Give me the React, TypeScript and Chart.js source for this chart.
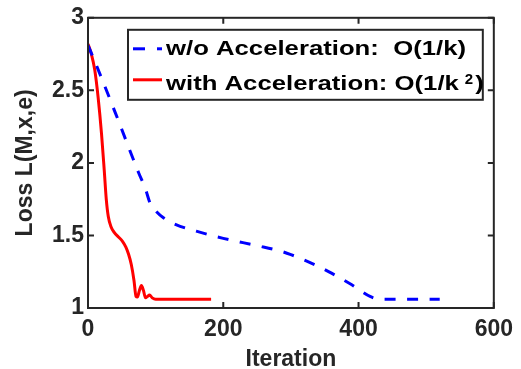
import { useEffect, useRef } from 'react';
import { Chart, registerables } from 'chart.js';

Chart.register(...registerables);

// ---- data ----
const blueIter = [0, 10, 40, 75, 85, 92, 100, 112, 130, 160, 200, 250, 285, 300, 330, 360, 390, 417, 432, 520];
const blueLoss = [2.81, 2.7, 2.35, 1.93, 1.82, 1.72, 1.67, 1.62, 1.575, 1.53, 1.48, 1.43, 1.392, 1.368, 1.31, 1.24, 1.16, 1.08, 1.06, 1.06];

const redIter = [0, 5, 10, 15, 20, 24, 27, 30, 34, 39, 45, 51, 56, 60, 64, 68, 71, 73, 76, 79, 82, 85, 88, 91, 95, 100, 182];
const redLoss = [2.82, 2.75, 2.64, 2.45, 2.2, 1.95, 1.75, 1.63, 1.56, 1.52, 1.49, 1.46, 1.42, 1.37, 1.3, 1.19, 1.08, 1.075, 1.12, 1.155, 1.12, 1.07, 1.08, 1.09, 1.07, 1.06, 1.06];

const xTickValues = [0, 200, 400, 600];
const xTickLabels = ['0', '200', '400', '600'];
const yTickValues = [1, 1.5, 2, 2.5, 3];
const yTickLabels = ['1', '1.5', '2', '2.5', '3'];

const seriesNames = ['w/o Acceleration:  O(1/k)', 'with Acceleration: O(1/k'];
const superscript = '2';
const closingParen = ')';
const xTitle = 'Iteration';
const yTitle = 'Loss L(M,x,e)';

const AXIS_COLOR = '#262626';
const FONT_FAMILY = '"Liberation Sans", Arial, Helvetica, sans-serif';

const boxPlugin = {
  id: 'matlabBox',
  afterDatasetsDraw(chart: any) {
    const ctx = chart.ctx;
    const a = chart.chartArea;
    const xs = chart.scales.x;
    const ys = chart.scales.y;
    ctx.save();
    ctx.strokeStyle = AXIS_COLOR;
    ctx.lineWidth = 2;
    ctx.setLineDash([]);
    ctx.strokeRect(a.left, a.top, a.right - a.left, a.bottom - a.top);
    const tl = 6;
    ctx.beginPath();
    xTickValues.forEach((v) => {
      const px = xs.getPixelForValue(v);
      ctx.moveTo(px, a.bottom);
      ctx.lineTo(px, a.bottom - tl);
      ctx.moveTo(px, a.top);
      ctx.lineTo(px, a.top + tl);
    });
    yTickValues.forEach((v) => {
      const py = ys.getPixelForValue(v);
      ctx.moveTo(a.left, py);
      ctx.lineTo(a.left + tl, py);
      ctx.moveTo(a.right, py);
      ctx.lineTo(a.right - tl, py);
    });
    ctx.stroke();
    ctx.restore();
  },
};

function drawStretched(ctx: CanvasRenderingContext2D, text: string, x: number, y: number, sx: number) {
  ctx.save();
  ctx.translate(x, y);
  ctx.scale(sx, 1);
  ctx.fillText(text, 0, 0);
  ctx.restore();
}

const legendPlugin = {
  id: 'matlabLegend',
  afterDraw(chart: any) {
    const ctx: CanvasRenderingContext2D = chart.ctx;
    const a = chart.chartArea;
    const L = a.left + 40;
    const T = a.top + 12;
    const R = a.right - 11;
    const B = a.top + 82;
    ctx.save();
    ctx.fillStyle = '#ffffff';
    ctx.fillRect(L, T, R - L, B - T);
    ctx.strokeStyle = AXIS_COLOR;
    ctx.lineWidth = 2;
    ctx.strokeRect(L, T, R - L, B - T);

    // line samples
    const ds = chart.data.datasets;
    ctx.lineWidth = 3;
    ctx.lineCap = 'butt';
    ctx.strokeStyle = ds[0].borderColor;
    ctx.setLineDash([12, 12]);
    ctx.beginPath();
    ctx.moveTo(L + 5, T + 19);
    ctx.lineTo(L + 34, T + 19);
    ctx.stroke();
    ctx.strokeStyle = ds[1].borderColor;
    ctx.setLineDash([]);
    ctx.beginPath();
    ctx.moveTo(L + 5, T + 50);
    ctx.lineTo(L + 34, T + 50);
    ctx.stroke();

    // text
    ctx.fillStyle = '#000000';
    ctx.textBaseline = 'alphabetic';
    ctx.textAlign = 'left';
    ctx.font = `bold 20px ${FONT_FAMILY}`;
    const tx = L + 38;
    const w1 = ctx.measureText(seriesNames[0]).width;
    const sx = 300 / w1;
    drawStretched(ctx, seriesNames[0], tx, T + 25, sx);
    drawStretched(ctx, seriesNames[1], tx, T + 60.5, sx);
    const w2 = ctx.measureText(seriesNames[1]).width * sx;
    ctx.font = `bold 15px ${FONT_FAMILY}`;
    const supX = tx + w2 + 6;
    drawStretched(ctx, superscript, supX, T + 54, 1);
    const supW = ctx.measureText(superscript).width;
    ctx.font = `bold 20px ${FONT_FAMILY}`;
    drawStretched(ctx, closingParen, supX + supW + 2, T + 60.5, sx);
    ctx.restore();
  },
};

export default function App() {
  const canvasRef = useRef<HTMLCanvasElement | null>(null);

  useEffect(() => {
    const canvas = canvasRef.current;
    if (!canvas) return;
    const tickFont = { family: FONT_FAMILY, size: 23, weight: 'bold' as const };
    const chart = new Chart(canvas, {
      type: 'line',
      data: {
        datasets: [
          {
            label: seriesNames[0],
            data: blueIter.map((x, i) => ({ x, y: blueLoss[i] })),
            borderColor: '#0000ff',
            backgroundColor: '#0000ff',
            borderWidth: 3,
            borderDash: [11, 11.5],
            borderCapStyle: 'butt',
            pointRadius: 0,
            fill: false,
            cubicInterpolationMode: 'monotone',
          },
          {
            label: seriesNames[1] + superscript + closingParen,
            data: redIter.map((x, i) => ({ x, y: redLoss[i] })),
            borderColor: '#ff0000',
            backgroundColor: '#ff0000',
            borderWidth: 3,
            pointRadius: 0,
            fill: false,
            cubicInterpolationMode: 'monotone',
          },
        ],
      },
      options: {
        animation: false,
        responsive: false,
        devicePixelRatio: 1,
        layout: { padding: { top: 17, right: 20, left: 0, bottom: 0 } },
        plugins: {
          legend: { display: false },
          tooltip: { enabled: false },
        },
        scales: {
          x: {
            type: 'linear',
            min: 0,
            max: 600,
            border: { display: false },
            grid: { display: false, drawTicks: false },
            afterBuildTicks: (scale: any) => {
              scale.ticks = xTickValues.map((v) => ({ value: v }));
            },
            afterFit: (scale: any) => {
              scale.height = 61;
            },
            ticks: {
              font: tickFont,
              color: AXIS_COLOR,
              padding: 8,
              maxRotation: 0,
              autoSkip: false,
              callback: (v: any) => {
                const i = xTickValues.indexOf(Number(v));
                return i >= 0 ? xTickLabels[i] : '';
              },
            },
            title: {
              display: true,
              text: xTitle,
              font: tickFont,
              color: AXIS_COLOR,
              padding: { top: 0, bottom: -4 },
            },
          },
          y: {
            type: 'linear',
            min: 1,
            max: 3,
            border: { display: false },
            grid: { display: false, drawTicks: false },
            afterBuildTicks: (scale: any) => {
              scale.ticks = yTickValues.map((v) => ({ value: v }));
            },
            afterFit: (scale: any) => {
              scale.width = 88;
            },
            ticks: {
              font: tickFont,
              color: AXIS_COLOR,
              padding: 4,
              autoSkip: false,
              callback: (v: any) => {
                const i = yTickValues.indexOf(Number(v));
                return i >= 0 ? yTickLabels[i] : '';
              },
            },
            title: {
              display: true,
              text: yTitle,
              font: tickFont,
              color: AXIS_COLOR,
              padding: { top: 12, bottom: 0 },
            },
          },
        },
      },
      plugins: [boxPlugin, legendPlugin],
    } as any);
    return () => chart.destroy();
  }, []);

  return (
    <div style={{ position: 'absolute', left: 0, top: 0, width: 521, height: 369, background: '#fff' }}>
      <canvas ref={canvasRef} width={521} height={369} style={{ width: 521, height: 369, display: 'block' }} />
    </div>
  );
}
